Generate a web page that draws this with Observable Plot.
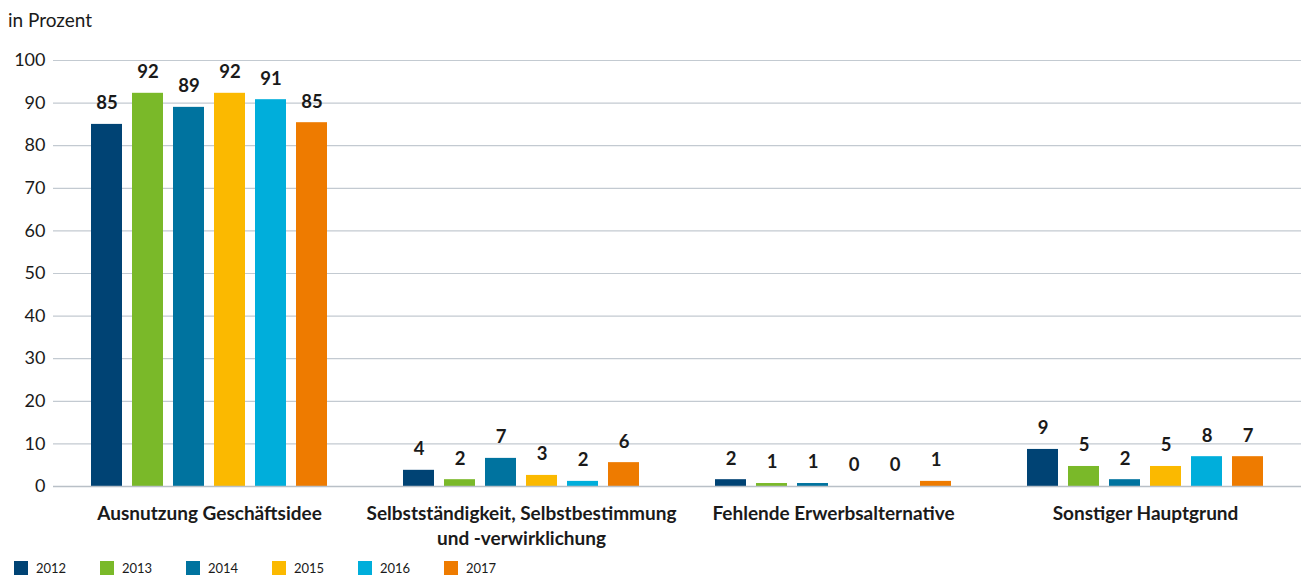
<!DOCTYPE html>
<html>
<head>
<meta charset="utf-8">
<script src="https://cdn.jsdelivr.net/npm/d3@7"></script>
<script src="https://cdn.jsdelivr.net/npm/@observablehq/plot@0.6"></script>
<style>
  body { margin: 0; background: #fff; font-family: Lato, "Noto Sans", sans-serif; color: #1a1a1a; }
  #title { height: 40px; font-size: 19px; line-height: 40px; padding-left: 8px; }
  #legend { display: flex; height: 25px; align-items: center; padding-left: 14px; font-size: 13px; }
  .item { display: flex; align-items: center; width: 86px; }
  .sw { width: 14px; height: 14px; margin-right: 8px; }
</style>
</head>
<body>
<div id="title">in Prozent</div>
<div id="chart"></div>
<div id="legend"></div>
<script>
const categories = [
  "Ausnutzung Geschäftsidee",
  "Selbstständigkeit, Selbstbestimmung\nund -verwirklichung",
  "Fehlende Erwerbsalternative",
  "Sonstiger Hauptgrund"
];
const years = ["2012", "2013", "2014", "2015", "2016", "2017"];
const colors = ["#004374", "#7ab929", "#00739f", "#fbb900", "#00aedb", "#ee7b00"];
const values2012 = [85.0, 3.8, 1.6, 8.7];
const values2013 = [92.3, 1.6, 0.7, 4.7];
const values2014 = [89.0, 6.6, 0.7, 1.6];
const values2015 = [92.3, 2.6, 0.0, 4.7];
const values2016 = [90.8, 1.2, 0.0, 7.0];
const values2017 = [85.4, 5.6, 1.2, 7.0];
const labels2012 = ["85", "4", "2", "9"];
const labels2013 = ["92", "2", "1", "5"];
const labels2014 = ["89", "7", "1", "2"];
const labels2015 = ["92", "3", "0", "5"];
const labels2016 = ["91", "2", "0", "8"];
const labels2017 = ["85", "6", "1", "7"];
const yTicks = [0, 10, 20, 30, 40, 50, 60, 70, 80, 90, 100];

const series = [values2012, values2013, values2014, values2015, values2016, values2017];
const labelSeries = [labels2012, labels2013, labels2014, labels2015, labels2016, labels2017];
const data = [];
categories.forEach((c, i) => years.forEach((y, j) => data.push({cat: c, year: y, value: series[j][i], label: labelSeries[j][i]})));

const chart = Plot.plot({
  width: 1301,
  height: 515,
  marginLeft: 53,
  marginRight: 0,
  marginTop: 20,
  marginBottom: 69,
  style: {fontFamily: "Lato, 'Noto Sans', sans-serif", color: "#1a1a1a", background: "#fff"},
  fx: {domain: categories, padding: 0, label: null},
  x: {domain: years, paddingInner: 0.255, paddingOuter: 0.87, axis: null},
  y: {domain: [0, 100], ticks: yTicks, label: null},
  color: {domain: years, range: colors},
  marks: [
    Plot.gridY(yTicks, {stroke: "#c3cad1", strokeOpacity: 1, strokeWidth: 1.2}),
    Plot.axisY(yTicks, {tickSize: 0, tickPadding: 8, fontSize: 18, label: null, fill: "#1a1a1a"}),
    Plot.axisFx({anchor: "bottom", tickSize: 0, tickPadding: 16, fontSize: 19, fontWeight: "bold", lineHeight: 1.32, label: null, fill: "#1a1a1a"}),
    Plot.barY(data, {fx: "cat", x: "year", y: "value", fill: "year"}),
    Plot.ruleY([0], {stroke: "#b9c0c7", strokeWidth: 1.5}),
    Plot.text(data, {fx: "cat", x: "year", y: "value", text: "label", dy: -21, fontSize: 18.5, fontWeight: "bold", fill: "#1a1a1a"})
  ]
});
document.getElementById("chart").appendChild(chart);

const legend = document.getElementById("legend");
years.forEach((y, i) => {
  const it = document.createElement("div");
  it.className = "item";
  it.innerHTML = `<div class="sw" style="background:${colors[i]}"></div><span>${y}</span>`;
  legend.appendChild(it);
});
</script>
</body>
</html>
